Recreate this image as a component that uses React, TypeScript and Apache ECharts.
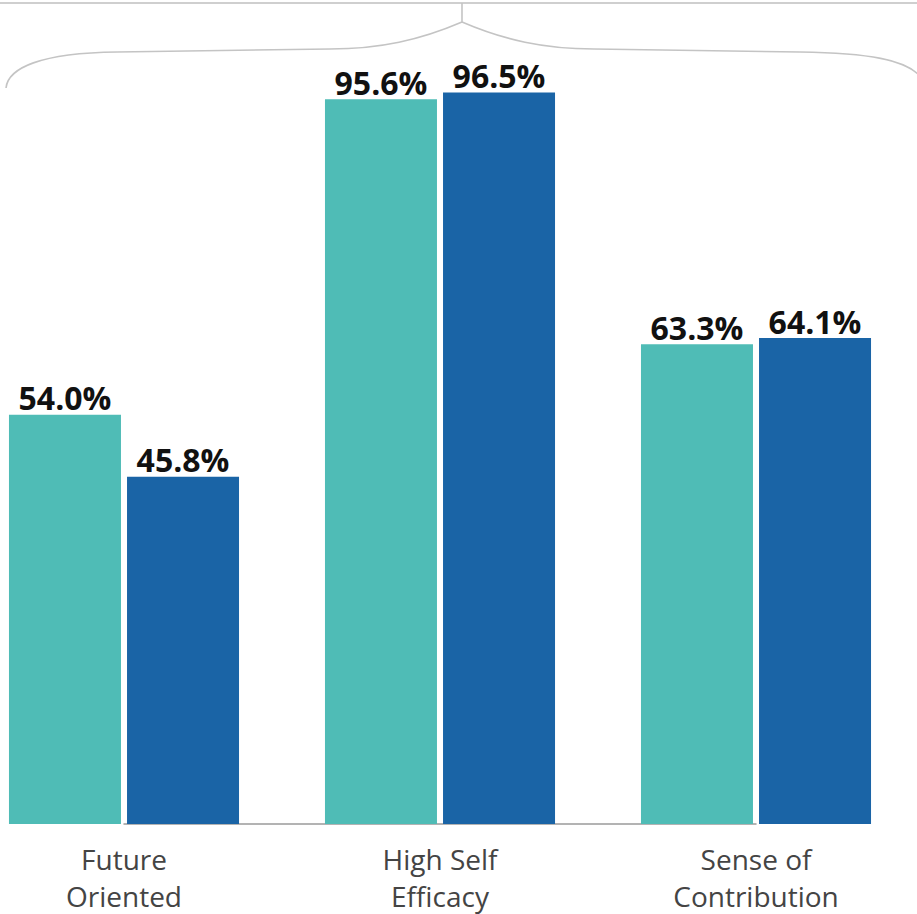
import React, { useEffect, useRef } from "react";
import * as echarts from "echarts";

const categories = ["Future\nOriented", "High Self\nEfficacy", "Sense of\nContribution"];
const seriesA = [54.0, 95.6, 63.3];
const seriesB = [45.8, 96.5, 64.1];

export default function App() {
  const ref = useRef<HTMLDivElement>(null);
  useEffect(() => {
    if (!ref.current) return;
    const chart = echarts.init(ref.current, null, { renderer: "svg" });
    const lineStyle = { stroke: "#c4c4c4", lineWidth: 1.6, fill: "none" };
    const labelCfg = {
      show: true,
      position: "top" as const,
      distance: 1,
      color: "#111",
      fontFamily: "Open Sans",
      fontWeight: "bold" as const,
      fontSize: 32,
      formatter: (p: any) => p.value.toFixed(1) + "%",
    };
    chart.setOption({
      animation: false,
      grid: { left: 124, right: 161, top: 66, bottom: 88, containLabel: false },
      xAxis: {
        type: "category",
        data: categories,
        boundaryGap: false,
        axisLine: { lineStyle: { color: "#9a9a9a", width: 1.5 } },
        axisTick: { show: false },
        axisLabel: {
          color: "#444",
          fontFamily: "Open Sans",
          fontSize: 28,
          lineHeight: 37,
          margin: 16,
        },
      },
      yAxis: { type: "value", min: 0, max: 100, show: false, splitLine: { show: false } },
      series: [
        {
          type: "bar",
          data: seriesA,
          barWidth: 112,
          barGap: "5.4%",
          clip: false,
          itemStyle: { color: "#4fbcb6" },
          label: labelCfg,
        },
        {
          type: "bar",
          data: seriesB,
          barWidth: 112,
          barGap: "5.4%",
          clip: false,
          itemStyle: { color: "#1a64a6" },
          label: labelCfg,
        },
      ],
      graphic: [
        { type: "line", shape: { x1: 0, y1: 3, x2: 917, y2: 3 }, style: { stroke: "#cfcfcf", lineWidth: 2 } },
        { type: "line", shape: { x1: 462, y1: 3, x2: 462, y2: 22 }, style: lineStyle },
        { type: "bezierCurve", shape: { x1: 462, y1: 22, cpx1: 420, cpy1: 40, cpx2: 380, cpy2: 49, x2: 330, y2: 49 }, style: lineStyle },
        { type: "line", shape: { x1: 330, y1: 49, x2: 117, y2: 52 }, style: lineStyle },
        { type: "bezierCurve", shape: { x1: 117, y1: 52, cpx1: 40, cpy1: 53, cpx2: 8, cpy2: 68, x2: 6, y2: 88 }, style: lineStyle },
        { type: "bezierCurve", shape: { x1: 462, y1: 22, cpx1: 504, cpy1: 40, cpx2: 544, cpy2: 49, x2: 594, y2: 49 }, style: lineStyle },
        { type: "line", shape: { x1: 594, y1: 49, x2: 800, y2: 52 }, style: lineStyle },
        { type: "bezierCurve", shape: { x1: 800, y1: 52, cpx1: 870, cpy1: 53, cpx2: 905, cpy2: 60, x2: 920, y2: 76 }, style: lineStyle },
      ],
    });
    return () => chart.dispose();
  }, []);
  return (
    <div
      ref={ref}
      style={{ position: "fixed", left: 0, top: 0, width: 917, height: 914, background: "#fff" }}
    />
  );
}
